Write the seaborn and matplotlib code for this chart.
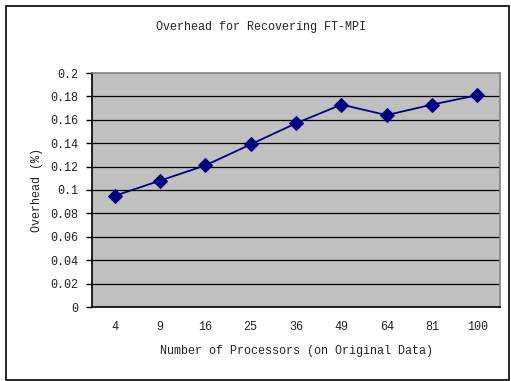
import matplotlib
matplotlib.use('Agg')
import matplotlib.pyplot as plt
import seaborn as sns
import pandas as pd
import numpy as np

processors = ['4', '9', '16', '25', '36', '49', '64', '81', '100']
overhead = [0.095, 0.108, 0.121, 0.139, 0.157, 0.173, 0.164, 0.173, 0.181]
y_ticks = [0, 0.02, 0.04, 0.06, 0.08, 0.1, 0.12, 0.14, 0.16, 0.18, 0.2]

df = pd.DataFrame({'procs': processors, 'overhead': overhead})

sns.set_style('white')
plt.rcParams['font.family'] = ['Liberation Mono', 'DejaVu Sans']
plt.rcParams['font.size'] = 8.5

fig = plt.figure(figsize=(5.11, 3.81), dpi=100)
ax = fig.add_axes([92 / 511, 1 - 307 / 381, 408 / 511, 234 / 381])
ax.set_facecolor('#c0c0c0')

x = np.arange(len(processors))
sns.lineplot(x=x, y=df['overhead'], ax=ax, color='#000080', linewidth=1.3,
             marker='D', markersize=7, markeredgecolor='#000080', zorder=3)

ax.set_xlim(-0.5, len(processors) - 0.5)
ax.set_ylim(0, 0.2)
ax.set_yticks(y_ticks)
ax.set_yticklabels(['0' if v == 0 else f'{v:g}' for v in y_ticks], color='#222222')
for v in y_ticks[1:-1]:
    ax.axhline(v, color='black', linewidth=0.9, zorder=1)

ax.set_xticks(x)
ax.set_xticklabels(processors, color='#222222')
ax.set_xticks(np.arange(0.5, len(processors) - 1, 1), minor=True)
ax.tick_params(axis='x', which='major', length=0, pad=10)
ax.tick_params(axis='x', which='minor', length=4, direction='in', color='black', width=1)
ax.tick_params(axis='y', length=4, direction='out', color='black', width=1, pad=6, left=True)

for s in ['left', 'bottom']:
    ax.spines[s].set_color('black')
    ax.spines[s].set_linewidth(1.2)
for s in ['top', 'right']:
    ax.spines[s].set_color('#808080')
    ax.spines[s].set_linewidth(1.2)

ax.set_xlabel('Number of Processors (on Original Data)', labelpad=9, color='#222222')
ax.set_ylabel('Overhead (%)', labelpad=5, color='#222222')

fig.text(261 / 511, 1 - 27 / 381, 'Overhead for Recovering FT-MPI',
         ha='center', va='center', color='#222222')

# outer frame of the chart
fig.patches.append(plt.Rectangle((6 / 511, 1 / 381), 503 / 511, 374 / 381,
                                 transform=fig.transFigure, fill=False,
                                 edgecolor='black', linewidth=1.2))

fig.savefig('out.png', dpi=100, facecolor='white')
